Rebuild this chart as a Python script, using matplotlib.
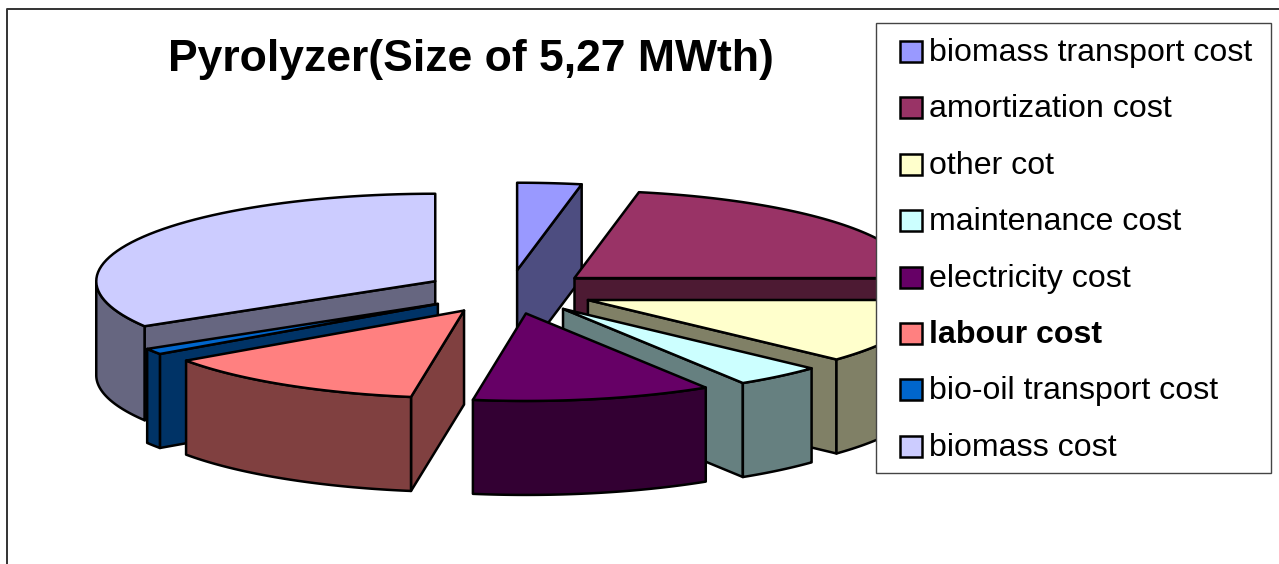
import matplotlib
matplotlib.use('Agg')
import matplotlib.pyplot as plt
import numpy as np
from matplotlib.patches import Polygon, Rectangle

plt.rcParams['font.family'] = ['Liberation Sans', 'DejaVu Sans']

# data, in percent, clockwise from 12 o'clock
labels = ['biomass transport cost', 'amortization cost', 'other cot', 'maintenance cost',
          'electricity cost', 'labour cost', 'bio-oil transport cost', 'biomass cost']
shares = [3.05, 21.95, 11.9, 4.2, 11.4, 12.8, 1.1, 33.6]
colors = ['#9999FF', '#993366', '#FFFFCC', '#CCFFFF', '#660066', '#FF8080', '#0066CC', '#CCCCFF']
bold_labels = ['labour cost']

# pie geometry in pixels
cx, cy = 509, 292
rx, ry = 339, 87.5
explode = 0.25
depth = 94
edge_lw = 1.8


def shade(c):
    rgb = np.array(matplotlib.colors.to_rgb(c))
    return tuple(rgb * 0.5)


def pt(ang, r=1.0):
    a = np.radians(ang)
    return cx + r * rx * np.sin(a), cy - r * ry * np.cos(a)


def face(ax, pts, col):
    ax.add_patch(Polygon(pts, closed=True, facecolor=col, edgecolor='black',
                         linewidth=edge_lw, joinstyle='round', zorder=ax.zcount))
    ax.zcount += 1


def draw_slice(ax, a0, a1, col):
    mid = (a0 + a1) / 2
    ox, oy = explode * rx * np.sin(np.radians(mid)), -explode * ry * np.cos(np.radians(mid))
    apex = np.array([cx + ox, cy + oy])
    arc = np.array([pt(a) for a in np.linspace(a0, a1, 60)]) + [ox, oy]
    down = np.array([0, depth])
    dark = shade(col)

    # side faces, only those turned to the viewer
    if np.cos(np.radians(a0 - 90)) < 0:
        p = arc[0]
        face(ax, [apex, p, p + down, apex + down], dark)
    if np.cos(np.radians(a1 + 90)) < 0:
        p = arc[-1]
        face(ax, [apex, p, p + down, apex + down], dark)

    # outer wall, front half of the pie
    w0, w1 = max(a0, 90), min(a1, 270)
    if w1 > w0:
        wall = np.array([pt(a) for a in np.linspace(w0, w1, 60)]) + [ox, oy]
        face(ax, np.vstack([wall, (wall + down)[::-1]]), dark)

    # top
    face(ax, np.vstack([[apex], arc]), col)


fig = plt.figure(figsize=(12.79, 5.64), dpi=100)
ax = fig.add_axes([0, 0, 1, 1])
ax.set_xlim(0, 1279)
ax.set_ylim(564, 0)
ax.axis('off')
ax.zcount = 2

# chart border, cut off by the page at right and bottom
ax.plot([7, 7, 1279], [564, 9, 9], color='#333333', lw=1.4, zorder=1)

ends = np.cumsum(shares) / sum(shares) * 360
starts = np.concatenate([[0], ends[:-1]])
# right half back to front, then left half back to front
order = [0, 1, 2, 3, 4, 7, 6, 5]
for i in order:
    draw_slice(ax, starts[i], ends[i], colors[i])

ax.text(470.5, 71.5, 'Pyrolyzer(Size of 5,27 MWth)', fontsize=32, fontweight='bold',
        ha='center', va='baseline', color='black', zorder=200)

# legend
ax.add_patch(Rectangle((876, 22.5), 395, 450.5, facecolor='white', edgecolor='#444444',
                       linewidth=1.0, zorder=100))
for i, lab in enumerate(labels):
    y = 51.5 + i * 56.4
    ax.add_patch(Rectangle((899.5, y - 10.5), 22, 21, facecolor=colors[i], edgecolor='black',
                           linewidth=1.8, zorder=101))
    ax.text(929, y + 9.5, lab, fontsize=23.1, va='baseline', ha='left', color='black', zorder=102,
            fontweight='bold' if lab in bold_labels else 'normal')

fig.savefig('out.png', dpi=100)
